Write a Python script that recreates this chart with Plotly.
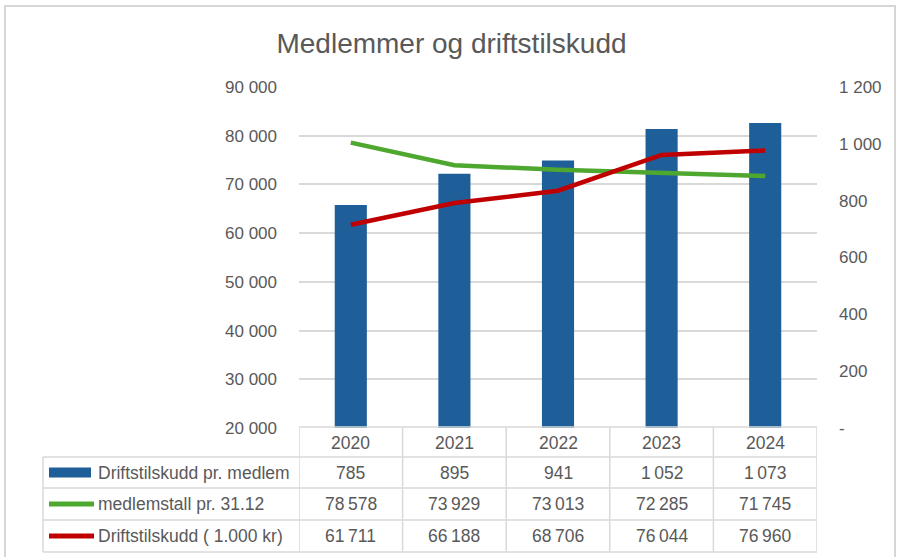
import plotly.graph_objects as go

years = ["2020", "2021", "2022", "2023", "2024"]
tilskudd_pr_medlem = [785, 895, 941, 1052, 1073]
medlemstall = [78578, 73929, 73013, 72285, 71745]
driftstilskudd = [61711, 66188, 68706, 76044, 76960]

series_names = ["Driftstilskudd pr. medlem", "medlemstall pr. 31.12", "Driftstilskudd ( 1.000 kr)"]
series_values = [tilskudd_pr_medlem, medlemstall, driftstilskudd]

left_ticks = [20000, 30000, 40000, 50000, 60000, 70000, 80000, 90000]
right_ticks = [0, 200, 400, 600, 800, 1000, 1200]

BLUE = "#1F5F99"
GREEN = "#4EA72E"
RED = "#C00000"
GRAY_TXT = "#595959"
GRID = "#D9D9D9"
FONT = "Liberation Sans, Arial, sans-serif"
TICK_SIZE = 17
TABLE_SIZE = 17.5

W, H = 898, 557


def px(x):
    return x / W


def py(y):
    return 1 - y / H


def fmt(v, sep=" "):
    s = f"{v:,}".replace(",", sep)
    return "-" if v == 0 else s


fig = go.Figure()

# Bars on primary axis (right side)
fig.add_trace(go.Bar(x=years, y=tilskudd_pr_medlem, name=series_names[0],
                     marker=dict(color=BLUE, line=dict(width=0)), width=0.31,
                     yaxis="y"))
# Lines on overlaid axis (left side), drawn over bars
fig.add_trace(go.Scatter(x=years, y=medlemstall, name=series_names[1], mode="lines",
                         line=dict(color=GREEN, width=4.5), yaxis="y2"))
fig.add_trace(go.Scatter(x=years, y=driftstilskudd, name=series_names[2], mode="lines",
                         line=dict(color=RED, width=4.5), yaxis="y2"))

x0p, x1p = px(299), px(817)
y_bot, y_top = py(428), py(87)

fig.update_layout(
    width=W, height=H,
    margin=dict(l=0, r=0, t=0, b=0, autoexpand=False),
    paper_bgcolor="white", plot_bgcolor="white",
    showlegend=False,
    font=dict(family=FONT, color=GRAY_TXT, size=TICK_SIZE),
    title=dict(text="Medlemmer og driftstilskudd", x=px(451.5), xanchor="center",
               xref="container", yref="container",
               y=py(43), yanchor="middle", automargin=False,
               font=dict(family=FONT, size=28, color=GRAY_TXT)),
    xaxis=dict(domain=[x0p, x1p], range=[-0.5, 4.5], type="category",
               showticklabels=False, showgrid=False, zeroline=False, showline=False,
               ticks="", automargin=False),
    yaxis=dict(domain=[y_bot, y_top], side="right", range=[0, 1200],
               tickvals=right_ticks, ticktext=[fmt(v) for v in right_ticks],
               showgrid=False, zeroline=False, showline=False, ticks="",
               automargin=False,
               ticklabelstandoff=21, tickfont=dict(size=TICK_SIZE, color=GRAY_TXT)),
    yaxis2=dict(overlaying="y", side="left", range=[20000, 90000],
                tickvals=left_ticks, ticktext=[fmt(v) for v in left_ticks],
                showgrid=True, gridcolor=GRID, gridwidth=1.5,
                zeroline=False, showline=False, ticks="", automargin=False,
                ticklabelstandoff=21, tickfont=dict(size=TICK_SIZE, color=GRAY_TXT)),
)

shapes = []
annotations = []

# Outer frame
shapes.append(dict(type="rect", xref="paper", yref="paper",
                   x0=px(5), x1=px(895), y0=py(560), y1=py(6),
                   line=dict(color="#D6D6D6", width=2), fillcolor="rgba(0,0,0,0)", layer="below"))

# Data table
row_edges = [427, 457, 488, 520, 552]
tbl_left = 43
n = len(years)
line_style = dict(color=GRID, width=1.5)

for i, yy in enumerate(row_edges):
    if i == 0:
        shapes.append(dict(type="line", xref="x", yref="paper", x0=-0.5, x1=n - 0.5,
                           y0=py(yy), y1=py(yy), line=line_style))
    else:
        shapes.append(dict(type="line", xref="paper", yref="paper", x0=px(tbl_left), x1=x1p,
                           y0=py(yy), y1=py(yy), line=line_style))
for k in range(n + 1):
    shapes.append(dict(type="line", xref="x", yref="paper", x0=k - 0.5, x1=k - 0.5,
                       y0=py(row_edges[0]), y1=py(row_edges[-1]), line=line_style))
shapes.append(dict(type="line", xref="paper", yref="paper", x0=px(tbl_left), x1=px(tbl_left),
                   y0=py(row_edges[1]), y1=py(row_edges[-1]), line=line_style))

# header
for k, yr in enumerate(years):
    annotations.append(dict(x=k, xref="x", y=py((row_edges[0] + row_edges[1]) / 2 + 1), yref="paper",
                            text=yr, showarrow=False, font=dict(size=TABLE_SIZE, color=GRAY_TXT),
                            xanchor="center", yanchor="middle"))

key_colors = [BLUE, GREEN, RED]
for r, (name, vals) in enumerate(zip(series_names, series_values)):
    yc = (row_edges[r + 1] + row_edges[r + 2]) / 2
    if r == 0:
        shapes.append(dict(type="rect", xref="paper", yref="paper", x0=px(49), x1=px(91),
                           y0=py(yc + 5), y1=py(yc - 5), fillcolor=BLUE, line=dict(width=0)))
    else:
        shapes.append(dict(type="line", xref="paper", yref="paper", x0=px(49), x1=px(94),
                           y0=py(yc), y1=py(yc), line=dict(color=key_colors[r], width=5)))
    annotations.append(dict(x=px(96), xref="paper", y=py(yc), yref="paper", text=name,
                            showarrow=False, xanchor="left", yanchor="middle",
                            font=dict(size=TABLE_SIZE, color=GRAY_TXT)))
    for k, v in enumerate(vals):
        annotations.append(dict(x=k, xref="x", y=py(yc), yref="paper", text=fmt(v, "\u2009"),
                                showarrow=False, xanchor="center", yanchor="middle",
                                font=dict(size=TABLE_SIZE, color=GRAY_TXT)))

fig.update_layout(shapes=shapes, annotations=annotations)

fig.write_html("out.html", config={"displayModeBar": False},
               post_script="document.body.style.margin='0';")
